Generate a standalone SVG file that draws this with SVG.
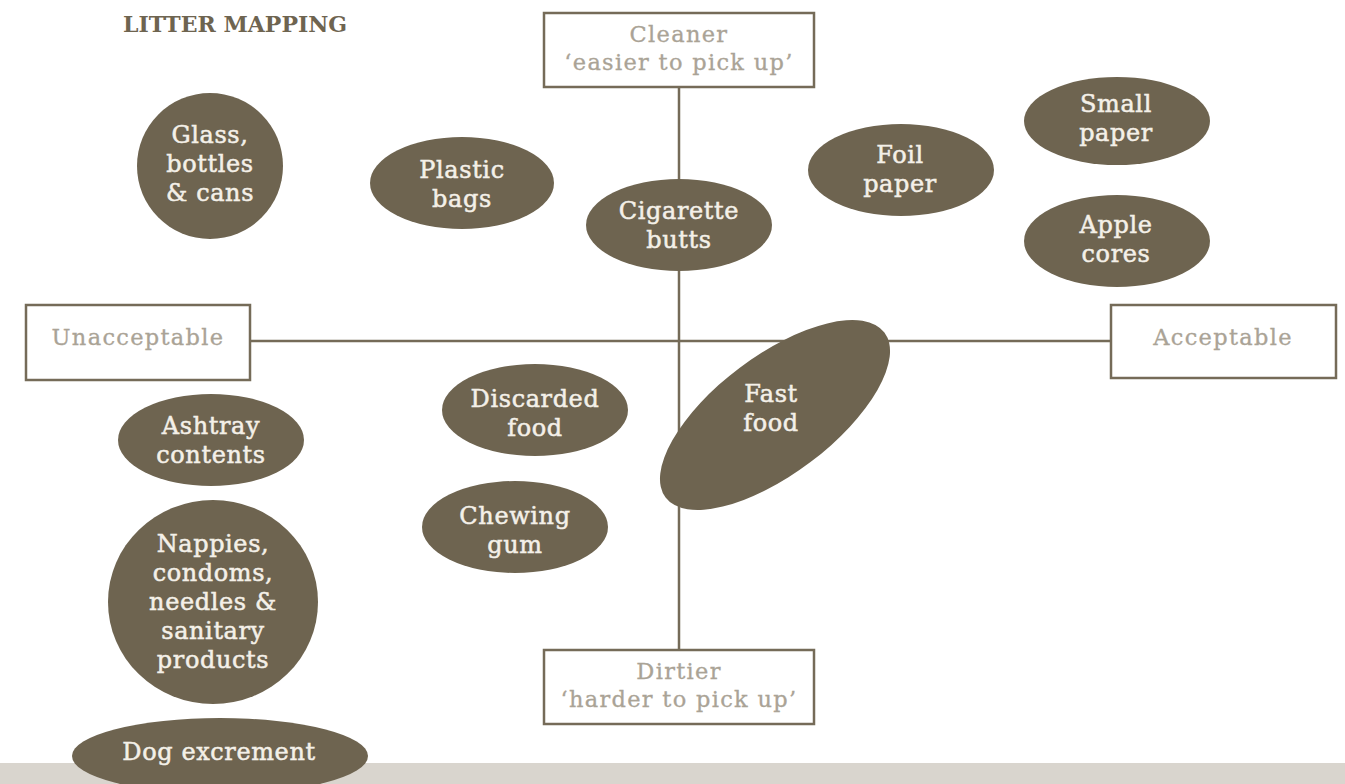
<svg xmlns="http://www.w3.org/2000/svg" width="1345" height="784" viewBox="0 0 1345 784">
<style>
.bub{fill:#6e6450}
.bt{font-family:"DejaVu Serif","Liberation Serif",serif;font-size:24px;letter-spacing:0.6px;fill:#f4f0e8;stroke:#f4f0e8;stroke-width:0.5;text-anchor:middle}
.box{fill:#fff;stroke:#756b58;stroke-width:2.5}
.lbl{font-family:"DejaVu Serif","Liberation Serif",serif;font-size:22.5px;letter-spacing:1.3px;fill:#aaa396;stroke:#aaa396;stroke-width:0.3;text-anchor:middle}
.ax{stroke:#756b58;stroke-width:2.5;fill:none}
</style>
<rect x="0" y="763" width="1345" height="21" fill="#d9d5ce"/>
<text x="123" y="32" font-family="DejaVu Serif,serif" font-weight="bold" font-size="22" fill="#6e6450">LITTER MAPPING</text>
<g id="connectors">
<line class="ax" x1="679" y1="87" x2="679" y2="650"/>
<line class="ax" x1="250" y1="341" x2="1111" y2="341"/>
</g>
<g id="cleaner"><rect class="box" x="544" y="13" width="270" height="74"/><text class="lbl" x="679" y="42">Cleaner</text><text class="lbl" x="679" y="70">‘easier to pick up’</text></g>
<g id="dirtier"><rect class="box" x="544" y="650" width="270" height="74"/><text class="lbl" x="679" y="679">Dirtier</text><text class="lbl" x="679" y="707">‘harder to pick up’</text></g>
<g id="unacceptable"><rect class="box" x="26" y="305" width="224" height="75"/><text class="lbl" x="138" y="345">Unacceptable</text></g>
<g id="acceptable"><rect class="box" x="1111" y="305" width="225" height="73"/><text class="lbl" x="1223" y="345">Acceptable</text></g>
<g id="glass"><ellipse class="bub" cx="210" cy="166" rx="73" ry="73"/><text class="bt" x="210" y="143">Glass,</text><text class="bt" x="210" y="172">bottles</text><text class="bt" x="210" y="201">&amp; cans</text></g>
<g id="plastic"><ellipse class="bub" cx="462" cy="183" rx="92" ry="46"/><text class="bt" x="462" y="178">Plastic</text><text class="bt" x="462" y="207">bags</text></g>
<g id="cigarette"><ellipse class="bub" cx="679" cy="225" rx="93" ry="46"/><text class="bt" x="679" y="219">Cigarette</text><text class="bt" x="679" y="248">butts</text></g>
<g id="foil"><ellipse class="bub" cx="901" cy="170" rx="93" ry="46"/><text class="bt" x="900" y="163">Foil</text><text class="bt" x="900" y="192">paper</text></g>
<g id="smallpaper"><ellipse class="bub" cx="1117" cy="121" rx="93" ry="44"/><text class="bt" x="1116" y="112">Small</text><text class="bt" x="1116" y="141">paper</text></g>
<g id="apple"><ellipse class="bub" cx="1117" cy="241" rx="93" ry="46"/><text class="bt" x="1116" y="233">Apple</text><text class="bt" x="1116" y="262">cores</text></g>
<g id="fastfood"><ellipse class="bub" cx="775" cy="415" rx="137" ry="59" transform="rotate(-37 775 415)"/><text class="bt" x="771" y="402">Fast</text><text class="bt" x="771" y="431">food</text></g>
<g id="discarded"><ellipse class="bub" cx="535" cy="410" rx="93" ry="46"/><text class="bt" x="535" y="407">Discarded</text><text class="bt" x="535" y="436">food</text></g>
<g id="ashtray"><ellipse class="bub" cx="211" cy="440" rx="93" ry="46"/><text class="bt" x="211" y="434">Ashtray</text><text class="bt" x="211" y="463">contents</text></g>
<g id="chewing"><ellipse class="bub" cx="515" cy="527" rx="93" ry="46"/><text class="bt" x="515" y="524">Chewing</text><text class="bt" x="515" y="553">gum</text></g>
<g id="nappies"><ellipse class="bub" cx="213" cy="602" rx="105" ry="102"/><text class="bt" x="213" y="552">Nappies,</text><text class="bt" x="213" y="581">condoms,</text><text class="bt" x="213" y="610">needles &amp;</text><text class="bt" x="213" y="639">sanitary</text><text class="bt" x="213" y="668">products</text></g>
<g id="dog"><ellipse class="bub" cx="220" cy="756" rx="148" ry="38"/><text class="bt" x="219" y="760">Dog excrement</text></g>
</svg>
